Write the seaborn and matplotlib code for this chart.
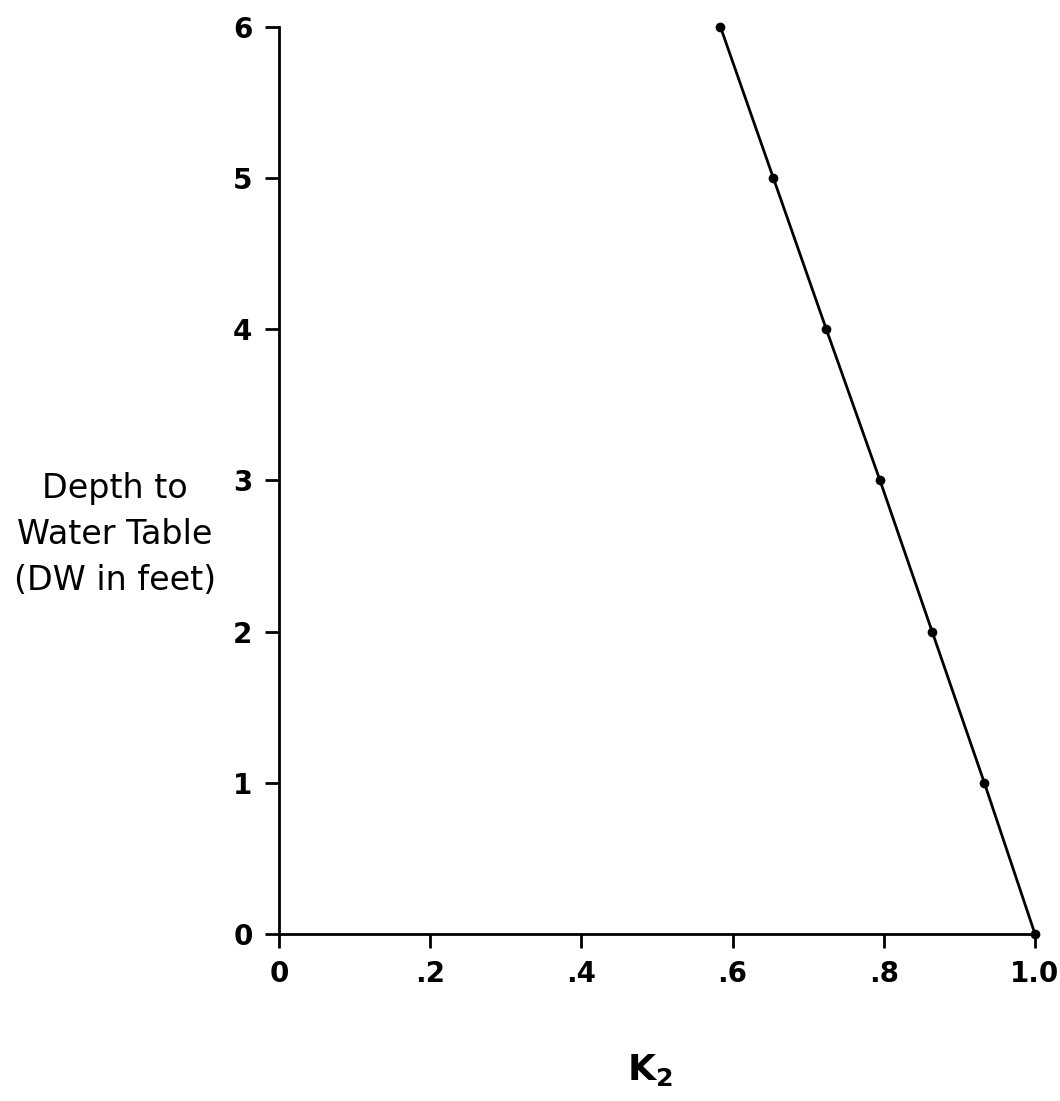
import matplotlib
matplotlib.use("Agg")
import matplotlib.pyplot as plt
import pandas as pd
import seaborn as sns

# values
depth_ft = [0, 1, 2, 3, 4, 5, 6]
k2 = [1.0, 0.933, 0.864, 0.795, 0.724, 0.654, 0.584]

x_ticks = [0, 0.2, 0.4, 0.6, 0.8, 1.0]
x_tick_labels = ["0", ".2", ".4", ".6", ".8", "1.0"]
y_ticks = [0, 1, 2, 3, 4, 5, 6]

sns.set_style("ticks")
plt.rcParams["font.family"] = ["DejaVu Sans"]
plt.rcParams["text.color"] = "black"
plt.rcParams["axes.labelcolor"] = "black"
plt.rcParams["xtick.color"] = "black"
plt.rcParams["ytick.color"] = "black"

df = pd.DataFrame({"K2": k2, "DW": depth_ft})

fig = plt.figure(figsize=(10.6, 11.01), dpi=100)
ax = fig.add_axes([0.2632, 0.1517, 0.7132, 0.8238])

sns.lineplot(data=df, x="K2", y="DW", sort=False, color="black", linewidth=2.0,
             marker="o", markersize=7, markeredgewidth=0, ax=ax, clip_on=False)

ax.set_xlim(0, 1.0)
ax.set_ylim(0, 6)
ax.set_xticks(x_ticks)
ax.set_xticklabels(x_tick_labels)
ax.set_yticks(y_ticks)
ax.tick_params(axis="both", direction="out", length=10, width=2,
               labelsize=20, pad=9, labelcolor="black")
for lab in ax.get_xticklabels() + ax.get_yticklabels():
    lab.set_fontweight("bold")

sns.despine(ax=ax)
for side in ["left", "bottom"]:
    ax.spines[side].set_linewidth(2)
    ax.spines[side].set_color("black")

ax.set_xlabel("K$_\\mathregular{2}$", fontsize=26, fontweight="bold")
ax.xaxis.set_label_coords(0.49, -0.13)
ax.set_ylabel("Depth to\nWater Table\n(DW in feet)", rotation=0, fontsize=24,
              fontweight="medium", linespacing=1.5, ha="center", va="center")
ax.yaxis.set_label_coords(-0.217, 0.44)

fig.savefig("out.png", dpi=100, facecolor="white")
